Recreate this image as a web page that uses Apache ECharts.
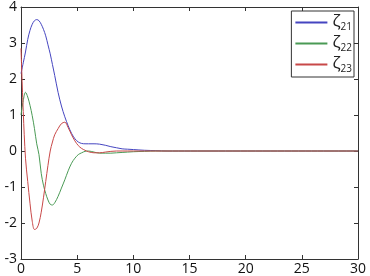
<!DOCTYPE html>
<html>
<head>
<meta charset="utf-8">
<script src="https://cdn.jsdelivr.net/npm/echarts@6/dist/echarts.min.js"></script>
<style>html,body{margin:0;padding:0;background:#fff;}#c{width:370px;height:276px;}</style>
</head>
<body>
<div id="c"></div>
<script>
var t = [0,0.2,0.4,0.6,0.8,1.0,1.2,1.4,1.6,1.8,2.0,2.2,2.4,2.6,2.8,3.0,3.3,3.6,3.9,4.2,4.5,4.8,5.1,5.4,5.7,6.0,6.5,7.0,7.5,8,8.5,9,9.5,10,11,12,13,14,30];
var zeta21 = [2.15,2.45,2.75,3.1,3.35,3.52,3.62,3.65,3.62,3.52,3.38,3.2,2.95,2.7,2.4,2.1,1.63,1.25,0.95,0.7,0.49,0.34,0.25,0.21,0.2,0.2,0.2,0.19,0.16,0.12,0.09,0.06,0.05,0.04,0.02,0.01,0,0,0];
var zeta22 = [1.0,1.4,1.63,1.5,1.27,0.98,0.62,0.2,-0.1,-0.62,-0.95,-1.18,-1.36,-1.48,-1.5,-1.44,-1.26,-1.03,-0.8,-0.55,-0.34,-0.2,-0.1,-0.05,-0.01,0.0,-0.03,-0.06,-0.06,-0.06,-0.05,-0.04,-0.03,-0.02,-0.01,0,0,0,0];
var zeta23 = [2.85,1.1,-0.2,-0.85,-1.45,-1.95,-2.18,-2.15,-2.0,-1.7,-1.3,-0.85,-0.4,0.0,0.25,0.45,0.62,0.76,0.8,0.65,0.45,0.28,0.15,0.07,0.02,-0.02,-0.05,-0.05,-0.03,-0.01,0,0,0,0,0,0,0,0,0];
var names = ['ζ21','ζ22','ζ23'];
var xTicks = [0,5,10,15,20,25,30];
var yTicks = [-3,-2,-1,0,1,2,3,4];

function pairs(v){ return t.map(function(x,i){ return [x, v[i]]; }); }
var colors = ['#4545c0','#4a9a55','#c84848'];
var font = 'Open Sans, Liberation Sans, sans-serif';
var chart = echarts.init(document.getElementById('c'));
var axisLine = {show:true, onZero:false, lineStyle:{color:'#333', width:1}};
var tick = {show:true, inside:true, length:4, lineStyle:{color:'#333'}};
chart.setOption({
  animation:false,
  grid:{left:21, right:12, top:6, bottom:16, show:false},
  legend:{
    orient:'vertical', right:16, top:11,
    data:names, itemWidth:32, itemHeight:2, itemGap:3,
    icon:'rect',
    backgroundColor:'#fff', borderColor:'#333', borderWidth:1, padding:[3,2,3,4],
    formatter:function(n){ return '{a|ζ}{b|'+n.slice(1)+'}'; },
    textStyle:{rich:{a:{fontSize:17, fontFamily:font, color:'#222'}, b:{fontSize:10, fontFamily:font, color:'#222', padding:[9,0,0,0]}}}
  },
  xAxis:[
    {type:'value', min:xTicks[0], max:xTicks[xTicks.length-1], interval:5, axisLine:axisLine, axisTick:tick, splitLine:{show:false},
     axisLabel:{fontSize:14, fontFamily:font, color:'#111', margin:3}},
    {type:'value', position:'top', min:0, max:30, interval:5, axisLine:axisLine, axisTick:tick, splitLine:{show:false}, axisLabel:{show:false}}
  ],
  yAxis:[
    {type:'value', min:yTicks[0], max:yTicks[yTicks.length-1], interval:1, axisLine:axisLine, axisTick:tick, splitLine:{show:false},
     axisLabel:{fontSize:14, fontFamily:font, color:'#111', margin:4}},
    {type:'value', position:'right', min:-3, max:4, interval:1, axisLine:axisLine, axisTick:tick, splitLine:{show:false}, axisLabel:{show:false}}
  ],
  series:[zeta21, zeta22, zeta23].map(function(v,i){
    return {name:names[i], type:'line', data:pairs(v), showSymbol:false, smooth:0.35,
            lineStyle:{width:1, color:colors[i]}, itemStyle:{color:colors[i]}, z:2+i};
  })
});
</script>
</body>
</html>
